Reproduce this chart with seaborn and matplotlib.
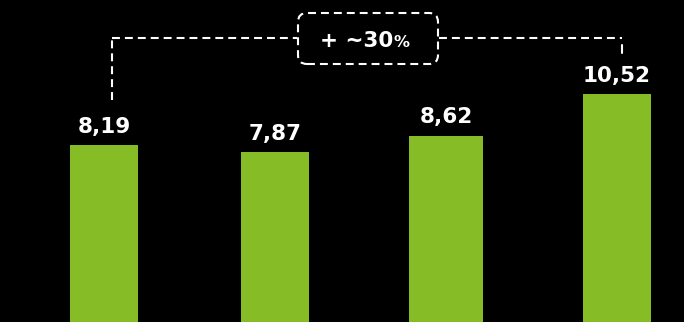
import matplotlib
matplotlib.use("Agg")
import matplotlib.pyplot as plt
import seaborn as sns
import pandas as pd
from matplotlib.patches import FancyBboxPatch
from matplotlib.transforms import IdentityTransform

categories = ["A", "B", "C", "D"]
values = [8.19, 7.87, 8.62, 10.52]
labels = ["8,19", "7,87", "8,62", "10,52"]
growth_text = "+ ~30"
growth_unit = "%"

GREEN = "#86BC25"

sns.set_theme(style="white")
plt.rcParams['font.family'] = ['DejaVu Sans']

fig = plt.figure(figsize=(6.84, 3.22), dpi=100, facecolor="black")
ax = fig.add_axes([0, 0, 1, 1])
ax.set_facecolor("black")

df = pd.DataFrame({"cat": categories, "val": values})
sns.barplot(data=df, x="cat", y="val", color=GREEN, saturation=1, width=0.4,
            linewidth=0, edgecolor="none", ax=ax)

# third bar slightly wider
p = ax.patches[2]
w = p.get_width()
nw = 0.435
p.set_x(p.get_x() - (nw - w) / 2)
p.set_width(nw)

ax.set_xlim(-0.608, 3.392)
ax.set_ylim(0.11, 14.81)
ax.axis("off")

for i, (v, lab) in enumerate(zip(values, labels)):
    ax.annotate(lab, (i, v), xytext=(0, 6), textcoords="offset points",
                ha="center", va="bottom", color="white", fontsize=15.5,
                fontweight="bold")

dash = (0, (3.8, 2.4))
lw = 1.5
H = 322
tr = IdentityTransform()
ybr = H - 38
ax.plot([112, 112], [H - 100, ybr], color="white", lw=lw, ls=dash, transform=tr, clip_on=False)
ax.plot([112, 297], [ybr, ybr], color="white", lw=lw, ls=dash, transform=tr, clip_on=False)
ax.plot([439, 622], [ybr, ybr], color="white", lw=lw, ls=dash, transform=tr, clip_on=False)
ax.plot([622, 622], [H - 45, H - 53], color="white", lw=lw, transform=tr, clip_on=False)

box = FancyBboxPatch((298, H - 64), 140, 51, boxstyle="round,pad=0,rounding_size=9",
                     transform=tr, facecolor="black", edgecolor="white", lw=lw,
                     linestyle=dash, clip_on=False)
ax.add_patch(box)
ax.text(393, H - 47, growth_text, transform=tr, ha="right", va="baseline",
        color="white", fontsize=15.5, fontweight="bold")
ax.text(394, H - 47, growth_unit, transform=tr, ha="left", va="baseline",
        color="white", fontsize=11.5, fontweight="bold")

fig.savefig("out.png", dpi=100, facecolor="black")
